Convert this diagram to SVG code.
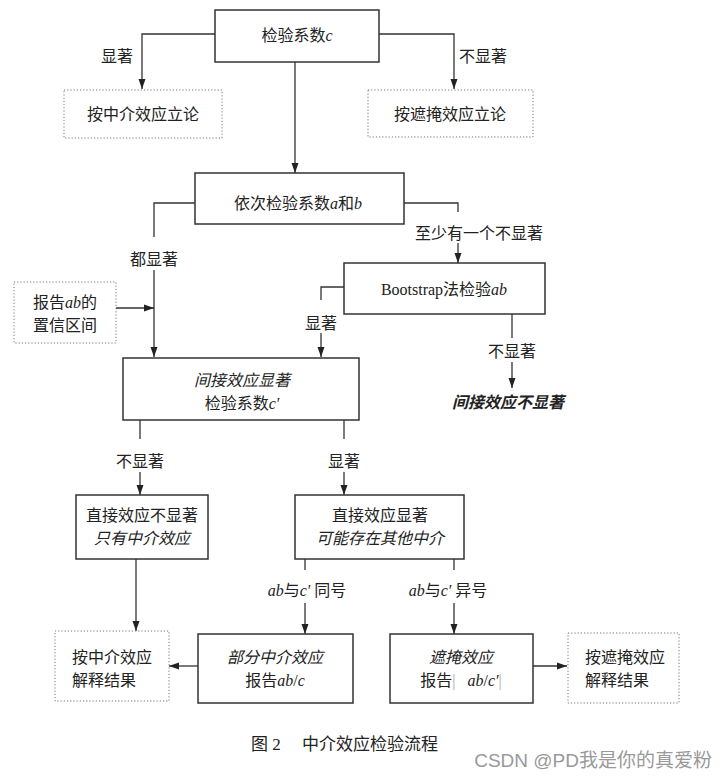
<svg xmlns="http://www.w3.org/2000/svg" width="728" height="778" viewBox="0 0 728 778">
<defs>
<marker id="ah" markerUnits="userSpaceOnUse" markerWidth="10" markerHeight="10" viewBox="0 0 10 10" refX="10" refY="5" orient="auto">
<path d="M0,1.5 L10,5 L0,8.5 Z" fill="#222"/>
</marker>
</defs>
<style>
text{font-family:"Liberation Serif","Noto Sans CJK SC",serif;font-size:16px;fill:#222;text-anchor:middle}
.box{fill:#fff;stroke:#333;stroke-width:1.5}
.dash{fill:#fff;stroke:#777;stroke-width:1;stroke-dasharray:1.2 2}
.ln{fill:none;stroke:#333;stroke-width:1.3}
.arr{marker-end:url(#ah)}
.i{font-style:italic}
.bi{font-style:italic;font-weight:bold}
.l{text-anchor:start}
.bar{fill:#aaa}
</style>
<rect width="728" height="778" fill="#fff"/>
<g id="connectors">
<polyline class="ln arr" points="215,34 142,34 142,89"/>
<polyline class="ln arr" points="379,34 454,34 454,89"/>
<line class="ln arr" x1="295" y1="62" x2="295" y2="173"/>
<polyline class="ln" points="195,203 154,203 154,237"/>
<line class="ln arr" x1="154" y1="270" x2="154" y2="357"/>
<polyline class="ln" points="404,203 458,203 458,212"/>
<line class="ln arr" x1="458" y1="243" x2="458" y2="263"/>
<polyline class="ln" points="344,287 321,287 321,300"/>
<line class="ln arr" x1="321" y1="333" x2="321" y2="357"/>
<line class="ln" x1="512" y1="314" x2="512" y2="338"/>
<line class="ln arr" x1="512" y1="362" x2="512" y2="388"/>
<line class="ln arr" x1="116" y1="308" x2="154" y2="308"/>
<line class="ln" x1="140" y1="420" x2="140" y2="439"/>
<line class="ln arr" x1="140" y1="472" x2="140" y2="495"/>
<line class="ln" x1="344" y1="420" x2="344" y2="439"/>
<line class="ln arr" x1="344" y1="472" x2="344" y2="495"/>
<line class="ln arr" x1="136" y1="559" x2="136" y2="631"/>
<line class="ln" x1="305" y1="559" x2="305" y2="570"/>
<line class="ln" x1="454" y1="559" x2="454" y2="570"/>
<line class="ln arr" x1="305" y1="603" x2="305" y2="634"/>
<line class="ln arr" x1="454" y1="603" x2="454" y2="634"/>
<line class="ln arr" x1="198" y1="666" x2="169" y2="666"/>
<line class="ln arr" x1="533" y1="666" x2="567" y2="666"/>
<text x="117" y="62">显著</text>
<text x="483" y="62">不显著</text>
<text x="154" y="265">都显著</text>
<text x="479" y="239">至少有一个不显著</text>
<text x="321" y="329">显著</text>
<text x="512" y="357">不显著</text>
<text x="140" y="467">不显著</text>
<text x="344" y="467">显著</text>
<text x="307" y="596"><tspan class="i">ab</tspan>与<tspan class="i">c′</tspan> 同号</text>
<text x="448" y="596"><tspan class="i">ab</tspan>与<tspan class="i">c′</tspan> 异号</text>
</g>
<g id="n-test-c">
<rect class="box" x="215" y="10" width="164" height="52"/>
<text x="297" y="41">检验系数<tspan class="i">c</tspan></text>
</g>
<g id="n-mediation-left">
<rect class="dash" x="64" y="90" width="158" height="48"/>
<text x="143" y="120">按中介效应立论</text>
</g>
<g id="n-suppression-left">
<rect class="dash" x="368" y="90" width="165" height="47"/>
<text x="450" y="120">按遮掩效应立论</text>
</g>
<g id="n-test-ab">
<rect class="box" x="195" y="173" width="209" height="51"/>
<text x="298" y="209">依次检验系数<tspan class="i">a</tspan>和<tspan class="i">b</tspan></text>
</g>
<g id="n-bootstrap">
<rect class="box" x="344" y="263" width="201" height="51"/>
<text x="444" y="295">Bootstrap法检验<tspan class="i">ab</tspan></text>
</g>
<g id="n-ci">
<rect class="dash" x="14" y="282" width="102" height="61"/>
<text x="65" y="308">报告<tspan class="i">ab</tspan>的</text>
<text x="65" y="331">置信区间</text>
</g>
<g id="n-indirect-ns">
<text class="bi" x="508" y="408">间接效应不显著</text>
</g>
<g id="n-indirect-sig">
<rect class="box" x="123" y="358" width="236" height="62"/>
<text class="i" x="242" y="386">间接效应显著</text>
<text x="242" y="409">检验系数<tspan class="i">c′</tspan></text>
</g>
<g id="n-direct-ns">
<rect class="box" x="76" y="495" width="132" height="64"/>
<text x="142" y="521">直接效应不显著</text>
<text class="i" x="142" y="544">只有中介效应</text>
</g>
<g id="n-direct-sig">
<rect class="box" x="295" y="495" width="169" height="64"/>
<text x="380" y="521">直接效应显著</text>
<text class="i" x="380" y="544">可能存在其他中介</text>
</g>
<g id="n-interpret-mediation">
<rect class="dash" x="55" y="631" width="114" height="70"/>
<text class="l" x="72" y="663">按中介效应</text>
<text class="l" x="72" y="686">解释结果</text>
</g>
<g id="n-partial">
<rect class="box" x="198" y="634" width="155" height="69"/>
<text class="i" x="275" y="663">部分中介效应</text>
<text x="275" y="686">报告<tspan class="i">ab</tspan>/<tspan class="i">c</tspan></text>
</g>
<g id="n-suppression">
<rect class="box" x="390" y="634" width="143" height="69"/>
<text class="i" x="461" y="663">遮掩效应</text>
<text x="461" y="686" xml:space="preserve">报告<tspan class="bar">|</tspan>   <tspan class="i">ab</tspan>/<tspan class="i">c′</tspan><tspan class="bar">|</tspan></text>
</g>
<g id="caption">
<text x="251" y="750" class="l" style="font-size:17px">图 2</text>
<text x="302" y="750" class="l" style="font-size:17px">中介效应检验流程</text>
<text x="712" y="767" style="font-family:'Liberation Sans','Noto Sans CJK SC',sans-serif;font-size:19px;fill:#999;text-anchor:end">CSDN @PD我是你的真爱粉</text>
</g>
<g id="n-interpret-suppression">
<rect class="dash" x="568" y="633" width="111" height="70"/>
<text class="l" x="585" y="663">按遮掩效应</text>
<text class="l" x="585" y="686">解释结果</text>
</g>
</svg>
